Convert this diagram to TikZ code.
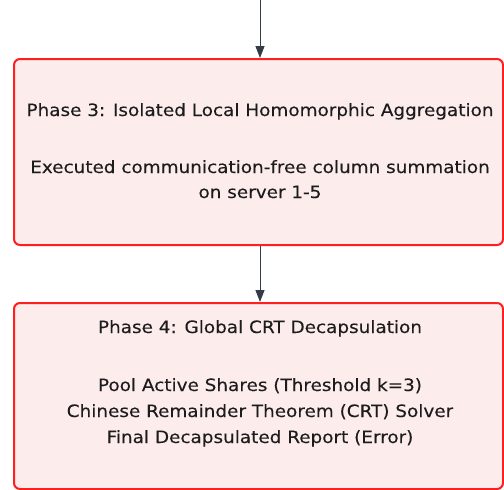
\documentclass[tikz,border=0pt]{standalone}
\usepackage{fontspec}
\usetikzlibrary{arrows.meta}
\newfontfamily\measfont{DejaVu Sans}
\newlength\measw
\settowidth\measw{\measfont\fontsize{17}{20}\selectfont Phase 3: Isolated Local Homomorphic Aggregation}
\pgfmathsetmacro\stretchratio{467/\measw}
\edef\makelblfont{\noexpand\newfontfamily\noexpand\lblfont[FakeStretch=\stretchratio,FakeBold=0.2]{DejaVu Sans}}
\makelblfont
\definecolor{boxfill}{HTML}{FDECEC}
\definecolor{boxline}{HTML}{FF1F1F}
\definecolor{arrowc}{HTML}{333B47}
\definecolor{txt}{HTML}{1C1C1C}
\tikzset{
  phasebox/.style={draw=boxline, fill=boxfill, line width=2pt, rounded corners=6pt, inner sep=0pt},
  lbl/.style={anchor=base, inner sep=0pt, text=txt, font=\lblfont\fontsize{17}{20}\selectfont},
  conn/.style={draw=arrowc, line width=1pt, -{Triangle[length=12pt,width=9pt]}}
}
\begin{document}
\begin{tikzpicture}[x=1pt,y=-1pt]
\useasboundingbox (0,0) rectangle (504,490);
\node[phasebox, minimum width=489pt, minimum height=186pt] (p3) at (258.5,152) {};
\node[phasebox, minimum width=489pt, minimum height=186pt] (p4) at (258.5,396) {};
\coordinate (top) at (260,0);
\draw[conn] (top) -- (top |- p3.north);
\draw[conn] (p3.south -| top) -- (p4.north -| top);
\node[lbl] (t1) at (260,116) {Phase 3: Isolated Local Homomorphic Aggregation};
\node[lbl] (t2) at (260,173) {Executed communication-free column summation};
\node[lbl] (t3) at (260,198) {on server 1-5};
\node[lbl] (u1) at (260,333) {Phase 4: Global CRT Decapsulation};
\node[lbl] (u2) at (260,391) {Pool Active Shares (Threshold k=3)};
\node[lbl] (u3) at (260,417) {Chinese Remainder Theorem (CRT) Solver};
\node[lbl] (u4) at (260,443) {Final Decapsulated Report (Error)};
\end{tikzpicture}
\end{document}
